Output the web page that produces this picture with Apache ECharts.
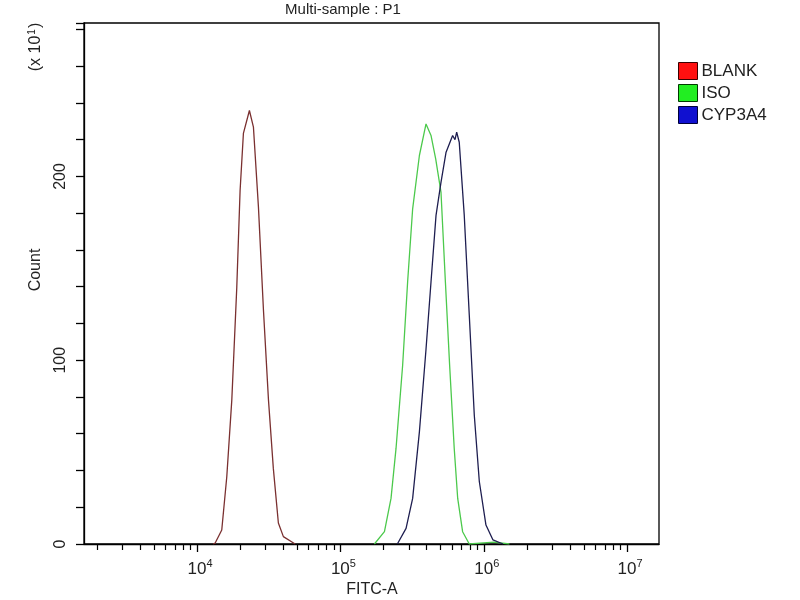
<!DOCTYPE html>
<html>
<head>
<meta charset="utf-8">
<script src="https://cdn.jsdelivr.net/npm/echarts@6/dist/echarts.min.js"></script>
<style>html,body{margin:0;padding:0;background:#fff}#c{width:800px;height:600px}</style>
</head>
<body>
<div id="c"></div>
<script>
// FITC-A intensity (x) and Count (x10^1)
const blankX = [12900, 13370, 14860, 16110, 17460, 18920, 19950, 21040, 23170, 24720, 26790, 29040, 31480, 34040, 36900, 39990, 48300];
const blankCount = [0, 0.5, 7.6, 36.6, 78.3, 139.8, 192.4, 223.4, 235.9, 226.8, 183.3, 127.2, 78.3, 41.0, 11.4, 4.0, 0];

const isoX = [172600, 202800, 225400, 244300, 271700, 294300, 319100, 355600, 395500, 428500, 462000, 503000, 540000, 578000, 622300, 658000, 712000, 792600, 1180000, 1510000];
const isoCount = [0, 6.7, 24.8, 52.0, 97.3, 142.6, 182.4, 211.4, 228.6, 222.3, 209.6, 191.5, 142.6, 97.3, 52.0, 24.8, 6.7, 0, 1.0, 0];

const cypX = [249500, 287000, 319100, 355600, 395500, 428500, 464500, 503300, 545800, 606600, 630000, 647300, 674500, 731100, 792600, 859000, 931100, 1036000, 1160000, 1362000];
const cypCount = [0, 8.5, 24.8, 61.0, 106.0, 142.6, 178.8, 196.9, 213.2, 222.3, 220.0, 224.1, 218.6, 178.8, 124.5, 70.1, 34.0, 10.3, 2.2, 0];

const seriesNames = ['BLANK', 'ISO', 'CYP3A4'];
const majorTicks = [1e4, 1e5, 1e6, 1e7];
const minorTicks = [];
[1e3, 1e4, 1e5, 1e6, 1e7].forEach(function (d) { for (let k = 2; k <= 9; k++) minorTicks.push(k * d); });
const yTicks = [0, 100, 200];

const xMin = 1625;
const xMaxV = 1.67e7;
const FONT = '"Liberation Sans", Arial, sans-serif';

function pairs(xs, ys) { return xs.map(function (x, i) { return [x, ys[i]]; }); }

const chart = echarts.init(document.getElementById('c'));
chart.setOption({
  animation: false,
  backgroundColor: '#fff',
  textStyle: {fontFamily: FONT},
  grid: {left: 84, right: 141, top: 23, bottom: 56, show: true, borderColor: '#000', borderWidth: 1.3, containLabel: false},
  legend: {
    orient: 'vertical', left: 673, top: 57, itemGap: 4, itemWidth: 19, itemHeight: 17,
    icon: 'rect',
    textStyle: {fontSize: 17, color: '#222', fontFamily: FONT, padding: [0, 0, 0, -1]},
    data: [
      {name: 'BLANK', itemStyle: {color: '#ff1010', borderColor: '#3a0000', borderWidth: 1}},
      {name: 'ISO', itemStyle: {color: '#22ee22', borderColor: '#003a00', borderWidth: 1}},
      {name: 'CYP3A4', itemStyle: {color: '#1010d0', borderColor: '#00003a', borderWidth: 1}}
    ]
  },
  xAxis: [{
    type: 'log', logBase: 10, min: xMin, max: xMaxV, position: 'bottom',
    axisLine: {show: true, lineStyle: {color: '#000', width: 1.3}},
    axisTick: {show: true, inside: false, length: 8, lineStyle: {color: '#000', width: 1.3}, customValues: majorTicks},
    splitLine: {show: false},
    axisLabel: {
      show: true, margin: 14, customValues: majorTicks,
      formatter: function (v) { const e = Math.round(Math.log10(v)); return '{b|10}{s|' + e + '}'; },
      rich: {
        b: {fontSize: 17, color: '#222', fontFamily: FONT, verticalAlign: 'bottom', padding: [0, 0, 0, 6]},
        s: {fontSize: 11, color: '#222', fontFamily: FONT, verticalAlign: 'top', padding: [0, 0, 9, 0]}
      }
    }
  }, {
    type: 'log', logBase: 10, min: xMin, max: xMaxV, position: 'bottom',
    axisLine: {show: false},
    axisTick: {show: true, inside: false, length: 6, lineStyle: {color: '#000', width: 1.2}, customValues: minorTicks},
    axisLabel: {show: false},
    splitLine: {show: false}
  }],
  yAxis: {
    type: 'value', min: 0, max: 283.5, interval: 20,
    axisLine: {show: true, lineStyle: {color: '#000', width: 1.3}},
    axisTick: {show: true, length: 8, lineStyle: {color: '#000', width: 1.3}},
    splitLine: {show: false},
    axisLabel: {
      show: true, rotate: 90, margin: 15, fontSize: 16, color: '#222', fontFamily: FONT,
      formatter: function (v) { return yTicks.indexOf(v) >= 0 ? String(v) : ''; }
    }
  },
  graphic: [
    {type: 'text', x: 343, y: 10, style: {text: 'Multi-sample : P1', fill: '#222', font: '15px ' + FONT, align: 'center', verticalAlign: 'middle'}},
    {type: 'text', x: 372, y: 590, style: {text: 'FITC-A', fill: '#222', font: '16px ' + FONT, align: 'center', verticalAlign: 'middle'}},
    {type: 'text', x: 36, y: 270, rotation: Math.PI / 2, style: {text: 'Count', fill: '#222', font: '16px ' + FONT, align: 'center', verticalAlign: 'middle'}},
    {type: 'text', x: 36, y: 47, rotation: Math.PI / 2, style: {
      text: '{b|(x 10}{s|1}{b|)}', align: 'center', verticalAlign: 'middle',
      rich: {
        b: {fontSize: 16, fill: '#222', fontFamily: FONT},
        s: {fontSize: 10, fill: '#222', fontFamily: FONT, padding: [0, 1, 8, 1]}
      }
    }}
  ],
  series: [
    {name: seriesNames[0], type: 'line', xAxisIndex: 0, showSymbol: false, symbol: 'none', data: pairs(blankX, blankCount), lineStyle: {color: '#7a3030', width: 1.3}, itemStyle: {color: '#7a3030'}},
    {name: seriesNames[1], type: 'line', xAxisIndex: 0, showSymbol: false, symbol: 'none', data: pairs(isoX, isoCount), lineStyle: {color: '#4cc94c', width: 1.3}, itemStyle: {color: '#4cc94c'}},
    {name: seriesNames[2], type: 'line', xAxisIndex: 0, showSymbol: false, symbol: 'none', data: pairs(cypX, cypCount), lineStyle: {color: '#1e1e50', width: 1.3}, itemStyle: {color: '#1e1e50'}}
  ]
});
</script>
</body>
</html>
